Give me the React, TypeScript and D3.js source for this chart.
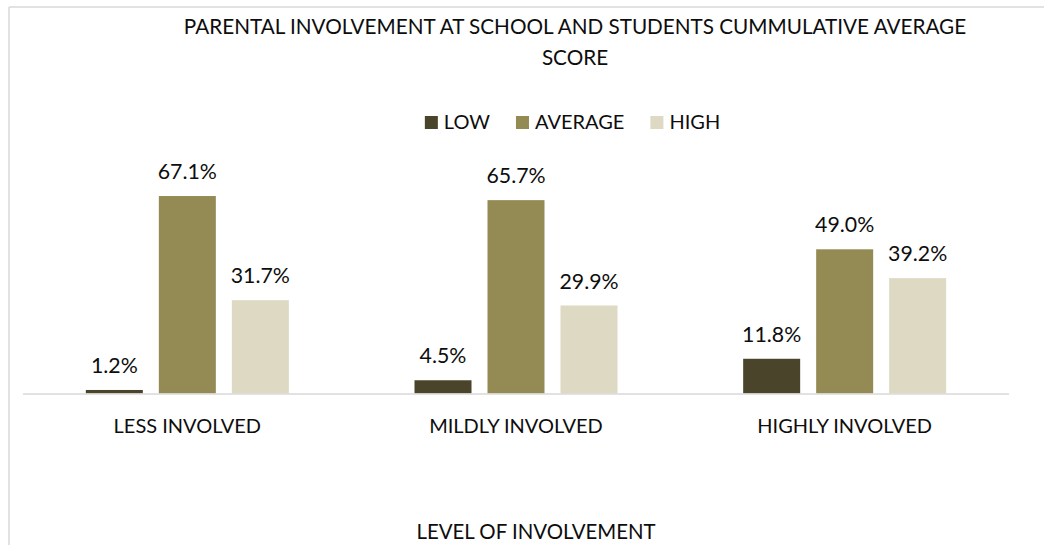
import React, { useEffect, useRef } from "react";
import * as d3 from "d3";

const categories = ["LESS INVOLVED", "MILDLY INVOLVED", "HIGHLY INVOLVED"];
const seriesNames = ["LOW", "AVERAGE", "HIGH"];
const lowValues = [0.012, 0.045, 0.118];
const averageValues = [0.671, 0.657, 0.49];
const highValues = [0.317, 0.299, 0.392];
const seriesColors = ["#4A452A", "#948A54", "#DDD9C3"];
const titleLines = ["PARENTAL INVOLVEMENT AT SCHOOL AND STUDENTS CUMMULATIVE AVERAGE", "SCORE"];
const xAxisTitle = "LEVEL OF INVOLVEMENT";

const W = 1044;
const H = 545;
const FONT = "Lato, 'Open Sans', sans-serif";
const FS = 20;
const INK = "#0d0d0d";

export default function App() {
  const ref = useRef<SVGSVGElement>(null);

  useEffect(() => {
    const svg = d3.select(ref.current);
    svg.selectAll("*").remove();

    // chart area border (cropped)
    svg.append("line").attr("x1", 9).attr("x2", W).attr("y1", 7).attr("y2", 7)
      .attr("stroke", "#d9d9d9").attr("stroke-width", 1.5);
    svg.append("line").attr("x1", 9).attr("x2", 9).attr("y1", 7).attr("y2", H)
      .attr("stroke", "#d9d9d9").attr("stroke-width", 1.5);

    const baseY = 393.5;
    const x0 = d3.scaleBand<string>().domain(categories).range([23, 1009]).padding(0);
    const groupW = 203;
    const x1 = d3.scaleBand<string>().domain(seriesNames).range([0, groupW])
      .paddingInner(16 / 73).paddingOuter(0);
    const y = d3.scaleLinear().domain([0, 0.8]).range([baseY, baseY - 0.8 * 294.3]);

    const values = [lowValues, averageValues, highValues];

    const data = categories.flatMap((c, ci) =>
      seriesNames.map((s, si) => ({ c, s, si, v: values[si][ci] }))
    );

    const g = svg.append("g");
    g.selectAll("rect.bar").data(data).enter().append("rect")
      .attr("class", "bar")
      .attr("x", (d) => (x0(d.c) as number) + x0.bandwidth() / 2 - groupW / 2 + (x1(d.s) as number))
      .attr("width", x1.bandwidth())
      .attr("y", (d) => y(d.v))
      .attr("height", (d) => baseY - y(d.v))
      .attr("fill", (d) => seriesColors[d.si]);

    g.selectAll("text.lbl").data(data).enter().append("text")
      .attr("class", "lbl")
      .attr("x", (d) => (x0(d.c) as number) + x0.bandwidth() / 2 - groupW / 2 + (x1(d.s) as number) + x1.bandwidth() / 2)
      .attr("y", (d) => y(d.v) - 17)
      .attr("text-anchor", "middle")
      .attr("font-family", FONT).attr("font-size", 21.3).attr("fill", INK)
      .text((d) => d3.format(".1%")(d.v));

    // baseline
    svg.append("line").attr("x1", 23).attr("x2", 1009).attr("y1", baseY + 0.5).attr("y2", baseY + 0.5)
      .attr("stroke", "#d9d9d9").attr("stroke-width", 1.5);

    // category labels
    svg.selectAll("text.cat").data(categories).enter().append("text")
      .attr("class", "cat")
      .attr("x", (d) => (x0(d) as number) + x0.bandwidth() / 2)
      .attr("y", 433)
      .attr("text-anchor", "middle")
      .attr("font-family", FONT).attr("font-size", FS).attr("fill", INK)
      .text((d) => d);

    // title
    svg.selectAll("text.title").data(titleLines).enter().append("text")
      .attr("class", "title")
      .attr("x", 575)
      .attr("y", (_d, i) => 34 + i * 31)
      .attr("text-anchor", "middle")
      .attr("font-family", FONT).attr("font-size", 20.7).attr("fill", INK)
      .text((d) => d);

    // x axis title
    svg.append("text").attr("x", 536).attr("y", 539)
      .attr("text-anchor", "middle")
      .attr("font-family", FONT).attr("font-size", 20.4).attr("fill", INK)
      .text(xAxisTitle);

    // legend
    const lg = svg.append("g");
    const items = seriesNames.map((s, i) => {
      const gi = lg.append("g");
      gi.append("rect").attr("x", 0).attr("y", -13).attr("width", 13).attr("height", 13)
        .attr("fill", seriesColors[i]);
      const t = gi.append("text").attr("x", 19).attr("y", 0)
        .attr("font-family", FONT).attr("font-size", FS).attr("fill", INK).text(s);
      const w = 19 + (t.node() as SVGTextElement).getComputedTextLength();
      return { gi, w };
    });
    const gap = 26;
    const total = items.reduce((a, b) => a + b.w, 0) + gap * (items.length - 1);
    let cx = 572.5 - total / 2;
    items.forEach((it) => {
      it.gi.attr("transform", `translate(${cx},129)`);
      cx += it.w + gap;
    });
  }, []);

  return (
    <svg
      ref={ref}
      width={W}
      height={H}
      style={{ position: "absolute", left: 0, top: 0, background: "#fff" }}
    />
  );
}
